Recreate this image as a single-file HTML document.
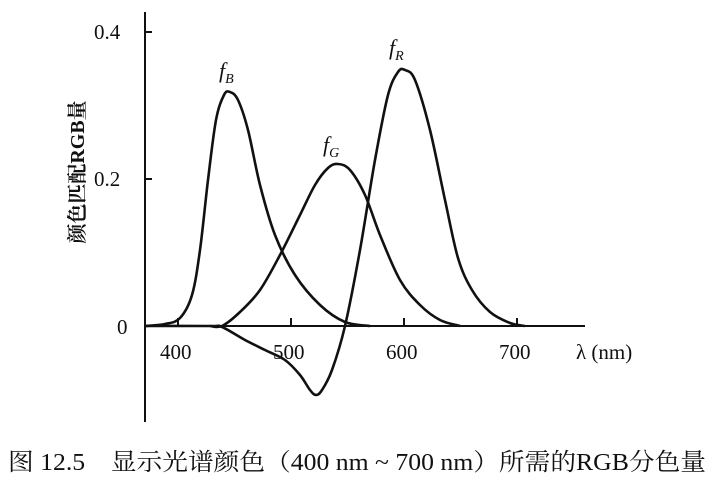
<!DOCTYPE html>
<html><head><meta charset="utf-8"><style>
body{margin:0;background:#fff;width:720px;height:483px;overflow:hidden}
svg text{font-family:"Liberation Serif","Noto Serif CJK SC",serif;fill:#111}
</style></head><body>
<svg id="s" width="720" height="483" viewBox="0 0 720 483">
<g stroke="#111" stroke-width="2" fill="none">
<line x1="145" y1="12" x2="145" y2="422"/>
<line x1="145" y1="326" x2="585" y2="326"/>
<line x1="145" y1="32" x2="152" y2="32"/>
<line x1="145" y1="179" x2="152" y2="179"/>
<line x1="178" y1="318" x2="178" y2="326"/>
<line x1="291" y1="318" x2="291" y2="326"/>
<line x1="404" y1="318" x2="404" y2="326"/>
<line x1="517" y1="318" x2="517" y2="326"/>
</g>
<g id="c" stroke="#111" stroke-width="2.6" fill="none"></g>
<g font-size="21">
<text x="94" y="39">0.4</text>
<text x="94" y="186">0.2</text>
<text x="117" y="334">0</text>
<text x="160" y="359">400</text>
<text x="273" y="359">500</text>
<text x="386" y="359">600</text>
<text x="499" y="359">700</text>
<text x="576" y="359">λ (nm)</text>
</g>
<g font-size="22" font-style="italic">
<text x="219" y="78">f<tspan font-size="14" dy="5">B</tspan></text>
<text x="323" y="152">f<tspan font-size="14" dy="5">G</tspan></text>
<text x="389" y="55">f<tspan font-size="14" dy="5">R</tspan></text>
</g>
<text transform="translate(84,172) rotate(-90)" text-anchor="middle" font-size="20" font-weight="bold">颜色匹配RGB量</text>
<text x="8" y="470" font-size="24" textLength="698" lengthAdjust="spacingAndGlyphs">图 12.5　显示光谱颜色（400 nm ~ 700 nm）所需的RGB分色量</text>
</svg>
<script>
function cr(p){var d="M"+p[0][0]+","+p[0][1];for(var i=0;i<p.length-1;i++){var a=p[i-1]||p[i],b=p[i],c=p[i+1],e=p[i+2]||c;d+=" C"+(b[0]+(c[0]-a[0])/6)+","+(b[1]+(c[1]-a[1])/6)+" "+(c[0]-(e[0]-b[0])/6)+","+(c[1]-(e[1]-b[1])/6)+" "+c[0]+","+c[1];}return d;}
var S=[
[[146,326],[165,324],[180,318],[192,295],[200,250],[208,180],[216,120],[224,95],[230,92],[238,100],[248,130],[260,185],[275,235],[295,275],[320,305],[345,322],[370,326]],
[[210,326],[222,326],[240,312],[260,290],[280,255],[300,215],[315,185],[328,168],[338,164],[350,170],[365,195],[380,235],[400,280],[420,305],[440,320],[460,326]],
[[146,326],[210,326],[222,327],[245,340],[265,350],[285,360],[300,375],[310,390],[316,395],[322,390],[332,370],[345,326],[360,250],[375,160],[388,95],[398,72],[405,70],[415,80],[430,130],[445,200],[458,258],[472,290],[490,312],[510,323],[525,326]]];
var g=document.getElementById("c");S.forEach(function(p){var e=document.createElementNS("http://www.w3.org/2000/svg","path");e.setAttribute("d",cr(p));g.appendChild(e);});
</script>
</body></html>
